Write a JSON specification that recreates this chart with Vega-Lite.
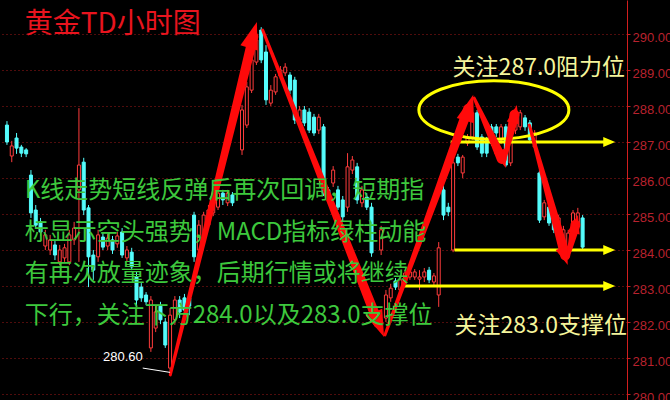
{
  "$schema": "https://vega.github.io/schema/vega-lite/v6.json",
  "width": 627,
  "height": 400,
  "padding": {"left": 0, "top": 0, "right": 43, "bottom": 0},
  "autosize": "none",
  "background": "#000000",
  "config": {"view": {"stroke": null}},
  "resolve": {"axis": {"y": "independent", "x": "independent"}},
  "datasets": {
    "candles": [
      {"t":0,"o":287.47,"h":287.58,"l":286.92,"c":287.00},
      {"t":1,"o":286.61,"h":287.03,"l":286.44,"c":286.89},
      {"t":2,"o":287.11,"h":287.25,"l":286.67,"c":286.83},
      {"t":3,"o":286.86,"h":286.92,"l":286.58,"c":286.69},
      {"t":4,"o":286.78,"h":286.83,"l":286.58,"c":286.67},
      {"t":5,"o":286.08,"h":286.22,"l":284.89,"c":285.03},
      {"t":6,"o":285.11,"h":285.25,"l":284.61,"c":284.69},
      {"t":7,"o":284.78,"h":284.89,"l":284.39,"c":284.50},
      {"t":8,"o":284.11,"h":284.56,"l":284.00,"c":284.42},
      {"t":9,"o":284.00,"h":284.42,"l":283.86,"c":284.28},
      {"t":10,"o":284.14,"h":284.28,"l":283.72,"c":283.86},
      {"t":11,"o":283.67,"h":284.14,"l":283.58,"c":284.00},
      {"t":12,"o":283.78,"h":284.17,"l":283.67,"c":284.06},
      {"t":13,"o":283.67,"h":284.56,"l":283.58,"c":284.42},
      {"t":14,"o":284.28,"h":284.78,"l":284.14,"c":284.61},
      {"t":15,"o":285.67,"h":287.94,"l":283.67,"c":286.36},
      {"t":16,"o":286.44,"h":286.56,"l":284.97,"c":285.11},
      {"t":17,"o":285.17,"h":285.25,"l":282.97,"c":283.81},
      {"t":18,"o":283.86,"h":284.00,"l":283.17,"c":283.44},
      {"t":19,"o":283.81,"h":284.56,"l":283.67,"c":284.42},
      {"t":20,"o":284.36,"h":284.47,"l":284.00,"c":284.08},
      {"t":21,"o":284.11,"h":284.44,"l":284.00,"c":284.33},
      {"t":22,"o":284.28,"h":284.39,"l":283.89,"c":284.00},
      {"t":23,"o":284.17,"h":284.50,"l":284.06,"c":284.39},
      {"t":24,"o":284.50,"h":284.61,"l":283.78,"c":283.86},
      {"t":25,"o":283.78,"h":284.11,"l":283.67,"c":284.00},
      {"t":26,"o":283.94,"h":284.06,"l":283.44,"c":283.53},
      {"t":27,"o":283.25,"h":283.39,"l":282.42,"c":282.61},
      {"t":28,"o":282.97,"h":283.08,"l":282.56,"c":282.67},
      {"t":29,"o":282.75,"h":282.83,"l":282.47,"c":282.56},
      {"t":30,"o":281.28,"h":282.72,"l":281.17,"c":282.61},
      {"t":31,"o":281.83,"h":282.44,"l":281.72,"c":282.28},
      {"t":32,"o":282.44,"h":282.56,"l":281.94,"c":282.06},
      {"t":33,"o":282.00,"h":282.11,"l":281.28,"c":281.36},
      {"t":34,"o":280.72,"h":282.39,"l":280.60,"c":282.19},
      {"t":35,"o":282.06,"h":282.72,"l":281.92,"c":282.61},
      {"t":36,"o":282.61,"h":282.72,"l":282.11,"c":282.28},
      {"t":37,"o":282.67,"h":282.78,"l":282.19,"c":282.33},
      {"t":38,"o":282.67,"h":282.75,"l":282.19,"c":282.44},
      {"t":39,"o":284.97,"h":285.06,"l":283.67,"c":283.81},
      {"t":40,"o":284.00,"h":284.83,"l":283.86,"c":284.69},
      {"t":41,"o":284.33,"h":285.06,"l":284.22,"c":284.97},
      {"t":42,"o":284.69,"h":285.25,"l":284.56,"c":285.11},
      {"t":43,"o":285.03,"h":285.53,"l":284.94,"c":285.39},
      {"t":44,"o":285.19,"h":285.67,"l":285.11,"c":285.58},
      {"t":45,"o":285.58,"h":285.67,"l":285.25,"c":285.39},
      {"t":46,"o":285.31,"h":285.67,"l":285.22,"c":285.58},
      {"t":47,"o":285.53,"h":285.61,"l":285.22,"c":285.31},
      {"t":49,"o":286.78,"h":288.03,"l":286.64,"c":287.89},
      {"t":50,"o":287.47,"h":288.67,"l":287.39,"c":288.53},
      {"t":51,"o":288.44,"h":289.42,"l":288.36,"c":289.28},
      {"t":52,"o":289.22,"h":289.97,"l":289.14,"c":289.83},
      {"t":53,"o":290.11,"h":290.19,"l":289.19,"c":289.28},
      {"t":54,"o":289.50,"h":289.69,"l":288.03,"c":288.17},
      {"t":55,"o":288.08,"h":288.58,"l":288.00,"c":288.44},
      {"t":56,"o":288.39,"h":288.89,"l":288.31,"c":288.81},
      {"t":57,"o":288.83,"h":289.11,"l":288.75,"c":289.00},
      {"t":58,"o":288.92,"h":289.19,"l":288.83,"c":289.08},
      {"t":59,"o":288.86,"h":288.94,"l":288.33,"c":288.44},
      {"t":60,"o":288.72,"h":288.81,"l":287.50,"c":287.61},
      {"t":61,"o":287.61,"h":288.00,"l":287.53,"c":287.89},
      {"t":62,"o":287.89,"h":288.00,"l":287.44,"c":287.53},
      {"t":63,"o":287.83,"h":287.94,"l":287.25,"c":287.33},
      {"t":64,"o":287.69,"h":287.78,"l":287.17,"c":287.25},
      {"t":65,"o":287.33,"h":287.78,"l":287.22,"c":287.69},
      {"t":66,"o":287.42,"h":287.50,"l":285.50,"c":285.58},
      {"t":67,"o":285.67,"h":285.75,"l":285.33,"c":285.44},
      {"t":68,"o":285.86,"h":286.33,"l":285.75,"c":286.22},
      {"t":69,"o":285.67,"h":285.78,"l":285.11,"c":285.19},
      {"t":70,"o":285.39,"h":285.50,"l":284.78,"c":284.92},
      {"t":71,"o":285.19,"h":286.69,"l":285.06,"c":286.31},
      {"t":72,"o":286.22,"h":286.61,"l":286.11,"c":286.50},
      {"t":73,"o":286.31,"h":286.42,"l":285.28,"c":285.39},
      {"t":74,"o":285.31,"h":285.78,"l":285.19,"c":285.67},
      {"t":75,"o":285.47,"h":285.58,"l":285.11,"c":285.19},
      {"t":76,"o":285.19,"h":285.31,"l":283.81,"c":283.92},
      {"t":78,"o":284.00,"h":284.67,"l":283.86,"c":284.56},
      {"t":79,"o":282.11,"h":282.89,"l":282.00,"c":282.75},
      {"t":80,"o":282.67,"h":283.06,"l":282.56,"c":282.94},
      {"t":81,"o":283.14,"h":283.22,"l":282.89,"c":282.97},
      {"t":82,"o":282.89,"h":283.28,"l":282.81,"c":283.17},
      {"t":83,"o":283.08,"h":283.44,"l":283.00,"c":283.36},
      {"t":84,"o":283.25,"h":283.50,"l":283.17,"c":283.39},
      {"t":85,"o":283.25,"h":283.47,"l":283.17,"c":283.39},
      {"t":86,"o":283.19,"h":283.44,"l":282.89,"c":283.25},
      {"t":87,"o":283.25,"h":283.50,"l":283.11,"c":283.39},
      {"t":88,"o":283.44,"h":283.53,"l":283.08,"c":283.17},
      {"t":89,"o":283.11,"h":283.36,"l":283.00,"c":283.28},
      {"t":90,"o":282.75,"h":284.22,"l":282.42,"c":284.06},
      {"t":91,"o":285.67,"h":285.81,"l":284.83,"c":284.97},
      {"t":92,"o":285.19,"h":285.31,"l":284.94,"c":285.06},
      {"t":93,"o":284.00,"h":286.50,"l":283.94,"c":286.42},
      {"t":94,"o":286.58,"h":286.67,"l":286.33,"c":286.42},
      {"t":95,"o":286.14,"h":286.64,"l":286.00,"c":286.58},
      {"t":96,"o":286.97,"h":287.22,"l":286.89,"c":287.14},
      {"t":97,"o":287.14,"h":287.89,"l":287.06,"c":287.81},
      {"t":98,"o":287.81,"h":287.89,"l":286.78,"c":286.86},
      {"t":99,"o":287.14,"h":287.22,"l":286.58,"c":286.69},
      {"t":100,"o":287.06,"h":287.14,"l":286.58,"c":286.69},
      {"t":101,"o":287.42,"h":287.50,"l":286.89,"c":286.97},
      {"t":102,"o":287.42,"h":287.50,"l":287.14,"c":287.25},
      {"t":103,"o":287.06,"h":287.50,"l":286.94,"c":287.42},
      {"t":104,"o":287.42,"h":287.50,"l":286.31,"c":286.36},
      {"t":105,"o":286.42,"h":287.14,"l":286.33,"c":287.06},
      {"t":106,"o":287.33,"h":287.94,"l":287.22,"c":287.81},
      {"t":107,"o":287.42,"h":287.89,"l":287.33,"c":287.81},
      {"t":108,"o":287.67,"h":287.75,"l":287.31,"c":287.42},
      {"t":109,"o":287.53,"h":287.61,"l":286.97,"c":287.06},
      {"t":110,"o":286.86,"h":287.33,"l":286.78,"c":287.25},
      {"t":111,"o":286.14,"h":286.22,"l":284.75,"c":284.83},
      {"t":112,"o":284.92,"h":285.39,"l":284.83,"c":285.31},
      {"t":113,"o":285.19,"h":285.28,"l":284.67,"c":284.75},
      {"t":114,"o":285.03,"h":285.11,"l":284.47,"c":284.56},
      {"t":115,"o":284.56,"h":284.97,"l":284.47,"c":284.89},
      {"t":116,"o":284.19,"h":284.67,"l":284.08,"c":284.56},
      {"t":117,"o":284.08,"h":284.56,"l":283.94,"c":284.47},
      {"t":118,"o":284.64,"h":285.11,"l":284.56,"c":285.03},
      {"t":119,"o":284.75,"h":285.17,"l":284.67,"c":285.03},
      {"t":120,"o":284.89,"h":284.97,"l":284.00,"c":284.08}
    ],
    "shafts": [
      {"arrow":1,"k":0,"t":34.05,"p":280.53},{"arrow":1,"k":1,"t":51.37,"p":289.93},
      {"arrow":2,"k":0,"t":53.3,"p":290.11},{"arrow":2,"k":1,"t":77.42,"p":281.97},
      {"arrow":3,"k":0,"t":78.8,"p":281.64},{"arrow":3,"k":1,"t":96.14,"p":287.92},
      {"arrow":4,"k":0,"t":97.4,"p":288.22},{"arrow":4,"k":1,"t":103.14,"p":286.53},
      {"arrow":5,"k":0,"t":103.6,"p":286.44},{"arrow":5,"k":1,"t":105.8,"p":287.76},
      {"arrow":6,"k":0,"t":108.9,"p":287.47},{"arrow":6,"k":1,"t":116.37,"p":283.85},
      {"arrow":7,"k":0,"t":116.9,"p":283.78},{"arrow":7,"k":1,"t":118.5,"p":284.70}
    ],
    "heads": [
      {"arrow":1,"t":52.1,"p":290.33},
      {"arrow":2,"t":78.6,"p":281.58},
      {"arrow":3,"t":97.2,"p":288.31},
      {"arrow":4,"t":104.0,"p":286.28},
      {"arrow":5,"t":106.3,"p":288.03},
      {"arrow":6,"t":116.9,"p":283.58},
      {"arrow":7,"t":119.0,"p":284.97}
    ],
    "levels": [
      {"p":287.0,"t0":92.5,"t1":125.6,"tip":126.8},
      {"p":284.0,"t0":93.3,"t1":125.6,"tip":126.8},
      {"p":283.0,"t0":82.7,"t1":125.6,"tip":126.8}
    ],
    "zone": [{"t":101.5,"p":287.89}],
    "texts": [
      {"kind":"title","t":3.7,"p":290.25,"text":"黄金TD小时图"},
      {"kind":"note","t":3.7,"p":285.64,"text":"K线走势短线反弹后再次回调，短期指"},
      {"kind":"note","t":3.7,"p":284.47,"text":"标显示空头强势，MACD指标绿柱动能"},
      {"kind":"note","t":3.7,"p":283.33,"text":"有再次放量迹象，后期行情或将继续"},
      {"kind":"note","t":3.7,"p":282.17,"text":"下行，关注下方284.0以及283.0支撑位"},
      {"kind":"level","t":92.9,"p":289.05,"text":"关注287.0阻力位"},
      {"kind":"level","t":93.3,"p":281.89,"text":"关注283.0支撑位"},
      {"kind":"low","t":28.3,"p":281.03,"text":"280.60"}
    ],
    "lowline": [{"t":28.3,"p":280.72,"t2":34.0,"p2":280.6}]
  },
  "layer": [
    {
      "data": {"name": "candles"},
      "mark": {"type": "rule", "strokeWidth": 1},
      "encoding": {
        "x": {"field": "t", "type": "quantitative", "scale": {"domain": [-0.41, 128.21], "nice": false, "zero": false}, "axis": null},
        "y": {"field": "l", "type": "quantitative", "title": null, "scale": {"domain": [279.833, 290.944], "nice": false, "zero": false},
          "axis": {"orient": "right", "values": [280,281,282,283,284,285,286,287,288,289,290,291], "format": ".2f", "title": null,
            "labelColor": "#B8222E", "labelFont": "Liberation Sans", "labelFontSize": 13, "labelPadding": 2, "labelOffset": 4,
            "labelBaseline": "middle", "labelFlush": false, "labelOverlap": false, "labelBound": false,
            "tickColor": "#C81E1E", "tickSize": 3, "domainColor": "#D21E1E", "domainWidth": 1,
            "grid": true, "gridColor": "#A01818", "gridDash": [1, 3], "gridWidth": 1}},
        "y2": {"field": "h"},
        "color": {"condition": {"test": "datum.c >= datum.o", "value": "#FF3C3C"}, "value": "#54FCFC"}
      }
    },
    {
      "data": {"name": "candles"},
      "mark": {"type": "bar", "size": 3, "strokeWidth": 1},
      "encoding": {
        "x": {"field": "t", "type": "quantitative", "axis": null},
        "y": {"field": "o", "type": "quantitative", "axis": null},
        "y2": {"field": "c"},
        "fill": {"condition": {"test": "datum.c >= datum.o", "value": "#000000"}, "value": "#54FCFC"},
        "stroke": {"condition": {"test": "datum.c >= datum.o", "value": "#FF3C3C"}, "value": "#54FCFC"}
      }
    },
    {
      "data": {"name": "levels"},
      "mark": {"type": "rule", "color": "#FFFF00", "strokeWidth": 3},
      "encoding": {
        "x": {"field": "t0", "type": "quantitative", "axis": null},
        "x2": {"field": "t1"},
        "y": {"field": "p", "type": "quantitative", "axis": null}
      }
    },
    {
      "data": {"name": "levels"},
      "mark": {"type": "point", "shape": "M0,0L0.8,1.9L-0.8,1.9Z", "filled": true, "color": "#FFFF00", "opacity": 1, "size": 160, "angle": 90},
      "encoding": {
        "x": {"field": "tip", "type": "quantitative", "axis": null},
        "y": {"field": "p", "type": "quantitative", "axis": null}
      }
    },
    {
      "data": {"name": "zone"},
      "mark": {"type": "point", "shape": "M-1,0C-1,-0.2154,-0.5523,-0.39,0,-0.39C0.5523,-0.39,1,-0.2154,1,0C1,0.2154,0.5523,0.39,0,0.39C-0.5523,0.39,-1,0.2154,-1,0Z", "filled": false, "stroke": "#FFFF00", "strokeWidth": 3, "opacity": 1, "size": 22500},
      "encoding": {
        "x": {"field": "t", "type": "quantitative", "axis": null},
        "y": {"field": "p", "type": "quantitative", "axis": null}
      }
    },
    {
      "data": {"name": "shafts"},
      "transform": [{"filter": "datum.arrow <= 3"}],
      "mark": {"type": "trail", "color": "#FF0A0A"},
      "encoding": {
        "x": {"field": "t", "type": "quantitative", "axis": null},
        "y": {"field": "p", "type": "quantitative", "axis": null},
        "detail": {"field": "arrow"},
        "size": {"field": "k", "type": "quantitative", "scale": {"domain": [0, 1], "range": [3, 10]}, "legend": null}
      }
    },
    {
      "data": {"name": "shafts"},
      "transform": [{"filter": "datum.arrow > 3"}],
      "mark": {"type": "trail", "color": "#FF0A0A"},
      "encoding": {
        "x": {"field": "t", "type": "quantitative", "axis": null},
        "y": {"field": "p", "type": "quantitative", "axis": null},
        "detail": {"field": "arrow"},
        "size": {"field": "k", "type": "quantitative", "scale": {"domain": [0, 1], "range": [2, 7]}, "legend": null}
      }
    },
    {
      "data": {"name": "heads"},
      "transform": [{"filter": "datum.arrow == 1 || datum.arrow == 3"}],
      "mark": {"type": "point", "shape": "M0,0L0.6,1.8L-0.6,1.8Z", "filled": true, "color": "#FF0A0A", "opacity": 1, "size": 900, "angle": 17},
      "encoding": {"x": {"field": "t", "type": "quantitative", "axis": null}, "y": {"field": "p", "type": "quantitative", "axis": null}}
    },
    {
      "data": {"name": "heads"},
      "transform": [{"filter": "datum.arrow == 2"}],
      "mark": {"type": "point", "shape": "M0,0L0.6,1.8L-0.6,1.8Z", "filled": true, "color": "#FF0A0A", "opacity": 1, "size": 900, "angle": 158},
      "encoding": {"x": {"field": "t", "type": "quantitative", "axis": null}, "y": {"field": "p", "type": "quantitative", "axis": null}}
    },
    {
      "data": {"name": "heads"},
      "transform": [{"filter": "datum.arrow == 5 || datum.arrow == 7"}],
      "mark": {"type": "point", "shape": "M0,0L0.6,1.8L-0.6,1.8Z", "filled": true, "color": "#FF0A0A", "opacity": 1, "size": 420, "angle": 13},
      "encoding": {"x": {"field": "t", "type": "quantitative", "axis": null}, "y": {"field": "p", "type": "quantitative", "axis": null}}
    },
    {
      "data": {"name": "heads"},
      "transform": [{"filter": "datum.arrow == 4 || datum.arrow == 6"}],
      "mark": {"type": "point", "shape": "M0,0L0.6,1.8L-0.6,1.8Z", "filled": true, "color": "#FF0A0A", "opacity": 1, "size": 420, "angle": 160},
      "encoding": {"x": {"field": "t", "type": "quantitative", "axis": null}, "y": {"field": "p", "type": "quantitative", "axis": null}}
    },
    {
      "data": {"name": "lowline"},
      "mark": {"type": "rule", "color": "#FFFFFF", "strokeWidth": 1},
      "encoding": {
        "x": {"field": "t", "type": "quantitative", "axis": null},
        "x2": {"field": "t2"},
        "y": {"field": "p", "type": "quantitative", "axis": null},
        "y2": {"field": "p2"}
      }
    },
    {
      "data": {"name": "texts"},
      "transform": [{"filter": "datum.kind == 'title'"}],
      "mark": {"type": "text", "align": "left", "baseline": "middle", "font": "Noto Sans CJK SC", "fontSize": 28, "color": "#E8141E"},
      "encoding": {"x": {"field": "t", "type": "quantitative", "axis": null}, "y": {"field": "p", "type": "quantitative", "axis": null}, "text": {"field": "text"}}
    },
    {
      "data": {"name": "texts"},
      "transform": [{"filter": "datum.kind == 'note'"}],
      "mark": {"type": "text", "align": "left", "baseline": "middle", "font": "Noto Sans CJK SC", "fontSize": 24, "color": "#3DC83D"},
      "encoding": {"x": {"field": "t", "type": "quantitative", "axis": null}, "y": {"field": "p", "type": "quantitative", "axis": null}, "text": {"field": "text"}}
    },
    {
      "data": {"name": "texts"},
      "transform": [{"filter": "datum.kind == 'level'"}],
      "mark": {"type": "text", "align": "left", "baseline": "middle", "font": "Noto Sans CJK SC", "fontSize": 23, "color": "#F5F59B"},
      "encoding": {"x": {"field": "t", "type": "quantitative", "axis": null}, "y": {"field": "p", "type": "quantitative", "axis": null}, "text": {"field": "text"}}
    },
    {
      "data": {"name": "texts"},
      "transform": [{"filter": "datum.kind == 'low'"}],
      "mark": {"type": "text", "align": "right", "baseline": "middle", "font": "Liberation Sans", "fontSize": 13, "color": "#FFFFFF"},
      "encoding": {"x": {"field": "t", "type": "quantitative", "axis": null}, "y": {"field": "p", "type": "quantitative", "axis": null}, "text": {"field": "text"}}
    }
  ]
}
